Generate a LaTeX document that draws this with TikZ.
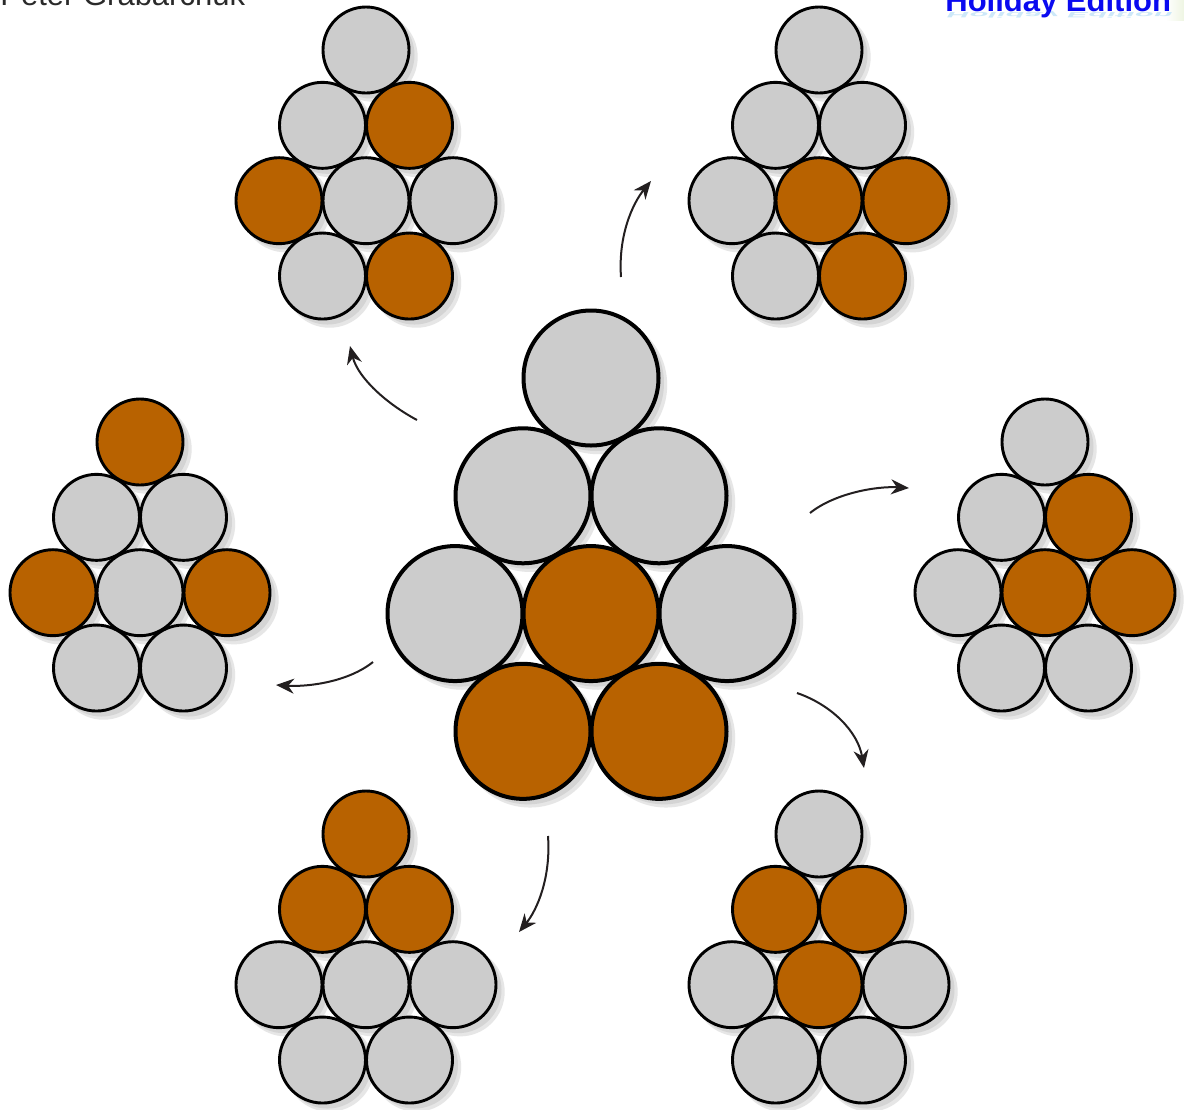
\documentclass[tikz,border=0pt]{standalone}
\usepackage{fontspec}
\setmainfont{Liberation Sans}
\usetikzlibrary{arrows.meta}
\definecolor{gball}{HTML}{CCCCCC}
\definecolor{oball}{HTML}{B86200}
\definecolor{shadowgrey}{HTML}{D4D4D4}
\definecolor{shadowlight}{HTML}{E6E6E6}
\definecolor{arrowdark}{HTML}{231F20}
\definecolor{authorgrey}{HTML}{2A2A2A}
\definecolor{titleblue}{HTML}{0A0AF0}
\definecolor{reflectblue}{HTML}{CDE8F8}
\definecolor{cornergreen}{HTML}{EEF5E2}
\tikzset{
  smallball/.style={circle, draw=black, line width=1.45pt, minimum size=43pt, inner sep=0pt, outer sep=0pt},
  bigball/.style={circle, draw=black, line width=2pt, minimum size=67.5pt, inner sep=0pt, outer sep=0pt},
  flow/.style={draw=arrowdark, line width=1pt, -{Stealth[length=9pt,width=7.5pt]}},
}
% #1 name, #2 x, #3 y (top ball), #4 spacing (px), #5 ball style, #6 colours
\newcommand\pcluster[6]{%
  \foreach \c [count=\i] in {#6} {
    \pgfmathsetmacro\dx{{0,-0.5,0.5,-1,0,1,-0.5,0.5}[\i-1]}
    \pgfmathsetmacro\dy{{0,1,1,2,2,2,3,3}[\i-1]}
    \fill[shadowlight] ({#2+\dx*#4+7},{#3+\dy*#4*0.866+7}) circle[radius={#4*0.25pt+0.6pt}];
    \fill[shadowgrey] ({#2+\dx*#4+5},{#3+\dy*#4*0.866+5}) circle[radius={#4*0.25pt}];
  }
  \foreach \c [count=\i] in {#6} {
    \pgfmathsetmacro\dx{{0,-0.5,0.5,-1,0,1,-0.5,0.5}[\i-1]}
    \pgfmathsetmacro\dy{{0,1,1,2,2,2,3,3}[\i-1]}
    \node[#5, fill=\c] (#1\i) at ({#2+\dx*#4},{#3+\dy*#4*0.866}) {};
  }
}
\begin{document}
\begin{tikzpicture}[x=0.5pt,y=-0.5pt]
  \clip (0,0) rectangle (1184,1109);
  \fill[white] (0,0) rectangle (1184,1109);
  % header (cut by the top edge)
  \shade[left color=white, right color=cornergreen] (1166,0) rectangle (1184,20);
  \node[anchor=base west, inner sep=0pt, text=authorgrey, font=\fontsize{15.5}{18}\selectfont] (author) at (0,5) {Peter Grabarchuk};
  \node[anchor=base west, inner sep=0pt, text=reflectblue, xslant=0.6, yscale=-0.25, font=\bfseries\fontsize{15.5}{18}\selectfont] (titlerefl) at (948,12) {Holiday Edition};
  \node[anchor=base west, inner sep=0pt, text=titleblue, font=\bfseries\fontsize{15.5}{18}\selectfont] (title) at (945,11) {Holiday Edition};
  % central cluster
  \pcluster{c}{591}{378}{136}{bigball}{gball,gball,gball,gball,oball,gball,oball,oball}
  % surrounding clusters
  \pcluster{tl}{366}{50}{87}{smallball}{gball,gball,oball,oball,gball,gball,gball,oball}
  \pcluster{tr}{819}{50}{87}{smallball}{gball,gball,gball,gball,oball,oball,gball,oball}
  \pcluster{l}{140}{442}{87}{smallball}{oball,gball,gball,oball,gball,oball,gball,gball}
  \pcluster{r}{1045}{442}{87}{smallball}{gball,gball,oball,gball,oball,oball,gball,gball}
  \pcluster{bl}{366}{834}{87}{smallball}{oball,oball,oball,gball,gball,gball,gball,gball}
  \pcluster{br}{819}{834}{87}{smallball}{gball,oball,oball,gball,oball,gball,gball,gball}
  % arrow end points
  \coordinate (a1s) at (417,420); \coordinate (a1e) at (350,346);
  \coordinate (a2s) at (621,277); \coordinate (a2e) at (651,181);
  \coordinate (a3s) at (810,513); \coordinate (a3e) at (909,488);
  \coordinate (a4s) at (797,693); \coordinate (a4e) at (864,768);
  \coordinate (a5s) at (548,836); \coordinate (a5e) at (519,932);
  \coordinate (a6s) at (373,662); \coordinate (a6e) at (276,685);
  \draw[flow] (a1s) .. controls +(-30,-16) and +(8,32) .. (a1e);
  \draw[flow] (a2s) .. controls +(-3,-42) and +(-18,22) .. (a2e);
  \draw[flow] (a3s) .. controls +(25,-20) and +(-32,-2) .. (a3e);
  \draw[flow] (a4s) .. controls +(35,12) and +(-6,-36) .. (a4e);
  \draw[flow] (a5s) .. controls +(3,42) and +(18,-22) .. (a5e);
  \draw[flow] (a6s) .. controls +(-25,20) and +(32,2) .. (a6e);
\end{tikzpicture}
\end{document}
